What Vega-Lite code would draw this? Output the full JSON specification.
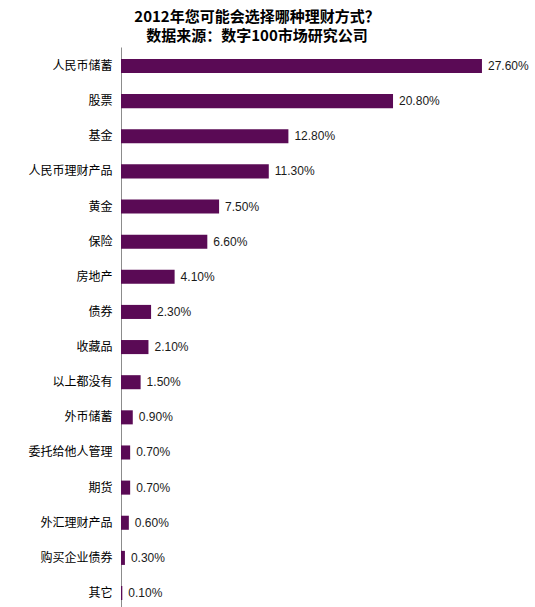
{
  "$schema": "https://vega.github.io/schema/vega-lite/v6.json",
  "width": 410,
  "height": 565,
  "autosize": {"type": "none"},
  "padding": {"left": 121, "top": 47, "right": 4, "bottom": 0},
  "background": "white",
  "title": {
    "text": ["2012年您可能会选择哪种理财方式？", "数据来源：数字100市场研究公司"],
    "font": "Noto Sans CJK SC",
    "fontSize": 15,
    "fontWeight": "bold",
    "color": "#000000",
    "lineHeight": 19,
    "anchor": "middle",
    "frame": "group",
    "dx": -69,
    "offset": 3
  },
  "data": {
    "values": [
      {"方式": "人民币储蓄", "比例": 0.276},
      {"方式": "股票", "比例": 0.208},
      {"方式": "基金", "比例": 0.128},
      {"方式": "人民币理财产品", "比例": 0.113},
      {"方式": "黄金", "比例": 0.075},
      {"方式": "保险", "比例": 0.066},
      {"方式": "房地产", "比例": 0.041},
      {"方式": "债券", "比例": 0.023},
      {"方式": "收藏品", "比例": 0.021},
      {"方式": "以上都没有", "比例": 0.015},
      {"方式": "外币储蓄", "比例": 0.009},
      {"方式": "委托给他人管理", "比例": 0.007},
      {"方式": "期货", "比例": 0.007},
      {"方式": "外汇理财产品", "比例": 0.006},
      {"方式": "购买企业债券", "比例": 0.003},
      {"方式": "其它", "比例": 0.001}
    ]
  },
  "encoding": {
    "y": {
      "field": "方式",
      "type": "nominal",
      "sort": null,
      "scale": {"paddingInner": 0.6, "paddingOuter": 0.34},
      "axis": {
        "title": null,
        "ticks": false,
        "labelFont": "Noto Sans CJK SC",
        "labelFontSize": 12,
        "labelColor": "#000000",
        "labelPadding": 9,
        "domainColor": "#8c8c8c",
        "domainWidth": 1
      }
    },
    "x": {
      "field": "比例",
      "type": "quantitative",
      "scale": {"domain": [0, 0.3135], "nice": false},
      "axis": null
    }
  },
  "layer": [
    {
      "mark": {"type": "bar", "color": "#5a0a55"}
    },
    {
      "mark": {
        "type": "text",
        "align": "left",
        "baseline": "middle",
        "dx": 6,
        "font": "Liberation Sans",
        "fontSize": 12,
        "color": "#1a1a1a"
      },
      "encoding": {
        "text": {"field": "比例", "type": "quantitative", "format": ".2%"}
      }
    }
  ],
  "config": {
    "view": {"stroke": null},
    "axis": {"grid": false}
  }
}
